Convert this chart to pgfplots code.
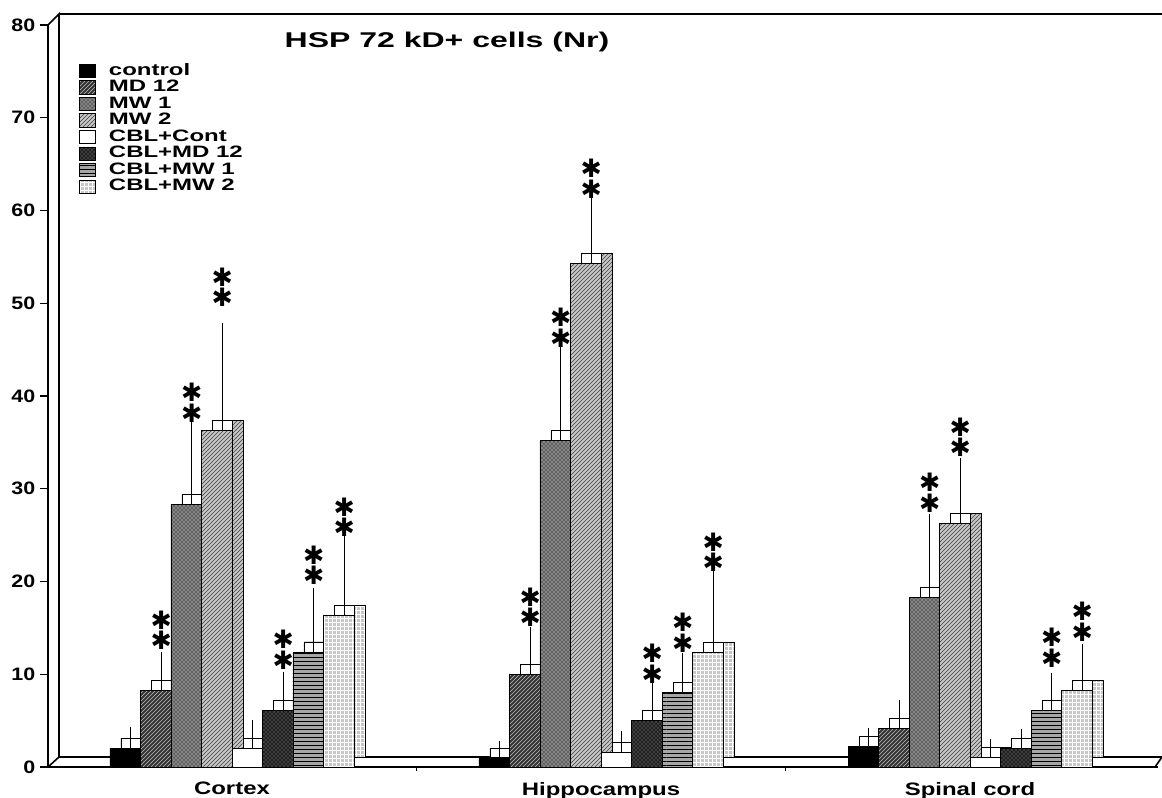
\documentclass[border=0pt]{standalone}
\usepackage{pgfplots}
\usepackage{pgfplotstable}
\pgfplotsset{compat=1.18}
\usetikzlibrary{patterns}
\usepackage{fontspec}
\setmainfont{Liberation Sans}
\newfontfamily\starfont{DejaVu Sans}
\newfontfamily\tickfont[FakeStretch=1.19]{Liberation Sans}
\newfontfamily\catfont[FakeStretch=1.33]{Liberation Sans}
\newfontfamily\legfont[FakeStretch=1.45]{Liberation Sans}
\newfontfamily\titfont[FakeStretch=1.5]{Liberation Sans}

\pgfplotstableread{
x v1  e1  s1   v2   e2  s2   v3   e3  s3   v4   e4   s4   v5  e5  s5  v6  e6  s6   v7   e7  s7   v8   e8  s8
1 2.0 1.7 nan  8.3  3.4 12.6 28.3 8.4 37.1 36.3 10.9 49.6 2.0 2.4 nan 6.1 3.5 10.5 12.4 6.2 19.6 16.3 8.4 24.8
2 0.9 1.3 nan  10.0 4.4 15.1 35.2 9.5 45.2 54.3 6.4  61.3 1.6 1.6 nan 5.0 3.6 9.0  8.0  3.6 12.3 12.4 8.3 21.0
3 2.2 1.4 nan  4.2  2.4 nan  18.3 8.3 27.4 26.3 6.4  33.4 1.0 1.4 nan 2.0 1.5 nan  6.1  3.4 10.7 8.3  4.3 13.5
}\data

\pgfplotsset{
  sA/.style={fill=black},
  sB/.style={fill=black!80, postaction={pattern=north east lines, pattern color=black!25}},
  sC/.style={fill=black!62, postaction={pattern=crosshatch dots, pattern color=white}},
  sD/.style={fill=black!22, postaction={pattern=north east lines, pattern color=black!75}},
  sE/.style={fill=white},
  sF/.style={fill=black!88, postaction={pattern=crosshatch dots, pattern color=black!35}},
  sG/.style={fill=black!35, postaction={pattern=horizontal lines, pattern color=black}},
  sH/.style={fill=black!22, postaction={pattern=grid, pattern color=white}},
}

\newcommand\backbar[3]{%
  \addplot[forget plot, ybar, bar width=22.875pt, bar shift={#3pt+8.25pt}, yshift=7.5pt,
    draw=black, line width=0.5pt, #2] table[x=x,y=v#1]{\data};}
\newcommand\topbar[3]{%
  \addplot[forget plot, ybar, bar width=14.625pt, bar shift={#3pt+4.125pt}, yshift=7.5pt,
    draw=black, line width=0.5pt, fill=white] table[x=x,y=v#1]{\data};}
\newcommand\frontbar[4]{%
  \addplot[ybar, bar width=22.875pt, bar shift={#3pt},
    draw=black, line width=0.5pt, #2] table[x=x,y=v#1]{\data};
  \addlegendentry{#4}}
\newcommand\errbar[2]{%
  \addplot[forget plot, draw=none, mark=none,
    error bars/.cd, y dir=plus, y explicit,
    error bar style={draw=black, line width=0.8pt},
    error mark options={draw=black, mark size=4.5pt, line width=0.8pt}]
    table[x expr=\thisrow{x}+#2/369, y=v#1, y error=e#1]{\data};}
\newcommand\starbar[2]{%
  \addplot[forget plot, draw=none, mark=none,
    nodes near coords={✱\\✱},
    every node near coord/.append style={font=\starfont\fontsize{19}{15.5}\selectfont,
      align=center, anchor=south, inner sep=0pt, text=black}]
    table[x expr=\thisrow{x}+#2/369, y=s#1]{\data};}

\begin{document}
\begin{tikzpicture}
\useasboundingbox (0,0) rectangle (871.5pt,598.5pt);
\begin{axis}[
  at={(36pt,23.25pt)}, anchor=south west,
  scale only axis, width=832.5pt, height=556.5pt,
  xmin=0.5014, xmax=3.5095, ymin=0, ymax=80,
  axis lines*=left, axis line style={line width=1.2pt, black},
  clip=false,
  ytick={0,10,...,80}, tick align=outside, major tick length=6pt,
  ytick style={line width=1pt, black},
  yticklabel style={font=\tickfont\fontsize{13.5}{14}\selectfont\bfseries},
  /pgf/number format/assume math mode=true,
  xtick={1,2,3}, xticklabels={Cortex,Hippocampus,Spinal cord},
  xtick style={draw=none},
  extra x ticks={1.5,2.5}, extra x tick labels={},
  extra x tick style={xtick style={draw=black, line width=0.8pt}, major tick length=3pt},
  xticklabel style={font=\catfont\fontsize{13.5}{14}\selectfont\bfseries, yshift=-2pt},
  legend style={at={(axis description cs:0.0243,0.953)}, anchor=north west,
    draw=none, fill=none, font=\legfont\fontsize{12.4}{12.4}\selectfont\bfseries,
    row sep=0pt, column sep=10pt,
    nodes={inner sep=0pt, text height=9.3pt, text depth=3.1pt}},
  legend cell align=left,
  legend image code/.code={\draw[#1, line width=0.3pt] (-0.5pt,-4.75pt) rectangle (11.5pt,5.25pt);},
]
% 3D frame
\draw[line width=1.2pt] (rel axis cs:0,0) -- ([shift={(8.25pt,7.5pt)}]rel axis cs:0,0) -- ([shift={(8.25pt,8.25pt)}]rel axis cs:0,1) -- (rel axis cs:0,1);
\draw[line width=1.2pt] ([shift={(8.25pt,8.25pt)}]rel axis cs:0,1) -- ([shift={(3pt,8.25pt)}]rel axis cs:1,1);
\draw[line width=1.2pt] ([shift={(8.25pt,7.5pt)}]rel axis cs:0,0) -- ([shift={(3pt,7.5pt)}]rel axis cs:1,0) -- ([xshift=-2.25pt]rel axis cs:1,0);
\node[font=\titfont\fontsize{16}{16}\selectfont\bfseries] at (axis cs:1.5827,78.17) {HSP 72 kD+ cells (Nr)};

\backbar{1}{sA}{-80.0625}
\backbar{2}{sB}{-57.1875}
\backbar{3}{sC}{-34.3125}
\backbar{4}{sD}{-11.4375}
\backbar{5}{sE}{11.4375}
\backbar{6}{sF}{34.3125}
\backbar{7}{sG}{57.1875}
\backbar{8}{sH}{80.0625}

\topbar{1}{sA}{-80.0625}
\topbar{2}{sB}{-57.1875}
\topbar{3}{sC}{-34.3125}
\topbar{4}{sD}{-11.4375}
\topbar{5}{sE}{11.4375}
\topbar{6}{sF}{34.3125}
\topbar{7}{sG}{57.1875}
\topbar{8}{sH}{80.0625}

\frontbar{1}{sA}{-80.0625}{control}
\frontbar{2}{sB}{-57.1875}{MD 12}
\frontbar{3}{sC}{-34.3125}{MW 1}
\frontbar{4}{sD}{-11.4375}{MW 2}
\frontbar{5}{sE}{11.4375}{CBL+Cont}
\frontbar{6}{sF}{34.3125}{CBL+MD 12}
\frontbar{7}{sG}{57.1875}{CBL+MW 1}
\frontbar{8}{sH}{80.0625}{CBL+MW 2}

\errbar{1}{-101.25}
\errbar{2}{-70.75}
\errbar{3}{-40.25}
\errbar{4}{-9.75}
\errbar{5}{20.75}
\errbar{6}{51.25}
\errbar{7}{81.75}
\errbar{8}{112.25}

\starbar{2}{-70.75}
\starbar{3}{-40.25}
\starbar{4}{-9.75}
\starbar{6}{51.25}
\starbar{7}{81.75}
\starbar{8}{112.25}
\end{axis}
\end{tikzpicture}
\end{document}
